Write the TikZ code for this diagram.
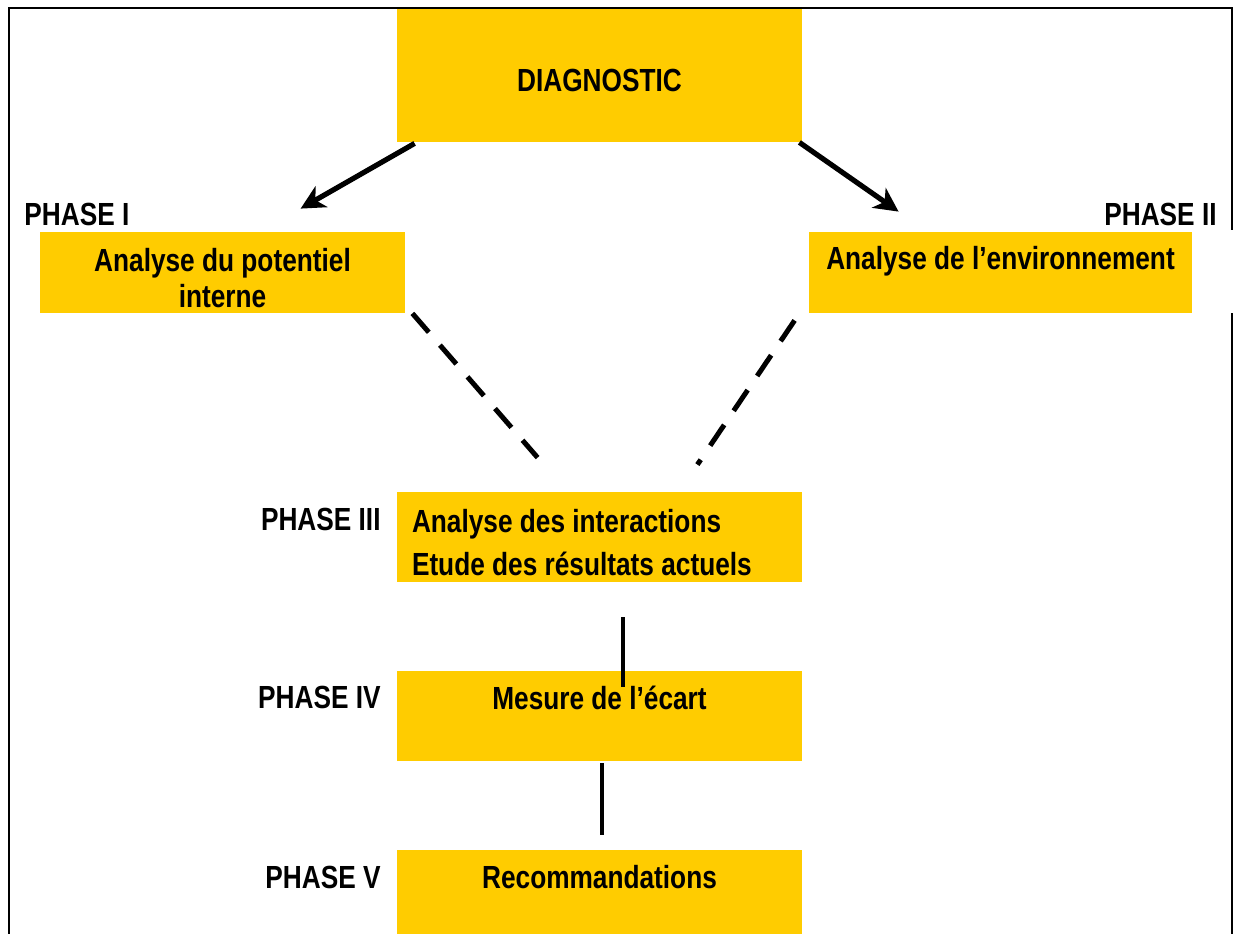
\documentclass[tikz,border=0pt]{standalone}
\usepackage{fontspec}
\setmainfont{Liberation Sans}[FakeStretch=0.82]
\usetikzlibrary{arrows.meta,calc}
\definecolor{boxyellow}{RGB}{255,204,0}
% lower a line of box text without changing the box it sits in
\newcommand\lowline[2][2.6pt]{\raisebox{-#1}[\height][\depth]{#2}}
\begin{document}
\begin{tikzpicture}[x=0.5pt,y=-0.5pt,
  font=\fontsize{16}{18}\selectfont\bfseries,
  box/.style={fill=boxyellow,draw=none,inner sep=0pt,align=center},
  phase/.style={inner sep=0pt},
  frameline/.style={line width=1pt,black},
  arrowline/.style={line width=2.6pt,-{Stealth[length=12pt,width=12pt,inset=3.5pt]}},
  dashline/.style={line width=2.5pt,dash pattern=on 12.5pt off 8.5pt},
  joinline/.style={line width=2pt}]
\useasboundingbox (0,0) rectangle (1237,933);

% outer frame, open on the right beside phase II
\draw[frameline] (9,940) -- (9,8) -- (1232,8) -- (1232,230);
\draw[frameline] (1232,313) -- (1232,940);

% boxes
\node[box,minimum width=202.5pt,minimum height=66.5pt] (diag) at (599.5,75.5) {\lowline{DIAGNOSTIC}};
\node[box,minimum width=182.5pt,minimum height=40.5pt] (p1) at (222.5,272.5)
  {\lowline{Analyse du potentiel}\\\lowline{interne}};
\node[box,minimum width=191.5pt,minimum height=40.5pt] (p2) at (1000.5,272.5)
  {\lowline[4.6pt]{Analyse de l’environnement}\\ \strut};
\node[box,minimum width=202.5pt,minimum height=45pt,align=flush left,text width=187.5pt] (p3) at (599.5,537)
  {\lowline{Analyse des interactions}\\[3.5pt]\lowline{Etude des résultats actuels}};
\node[box,minimum width=202.5pt,minimum height=45pt] (p4) at (599.5,716) {\lowline{Mesure de l’écart}\\ \strut};
\node[box,minimum width=202.5pt,minimum height=45pt] (p5) at (599.5,895) {\lowline{Recommandations}\\ \strut};

% phase labels
\node[phase,anchor=base west] (l1) at (24,225) {PHASE I};
\node[phase,anchor=base east] (l2) at (1217,225) {PHASE II};
\node[phase,anchor=base east] (l3) at (381,530) {PHASE III};
\node[phase,anchor=base east] (l4) at (381,708) {PHASE IV};
\node[phase,anchor=base east] (l5) at (381,888) {PHASE V};

% arrows from the diagnostic
\draw[arrowline] ($(diag.south west)+(18,1)$) -- ($(p1.north west)+(261,-23)$);
\draw[arrowline] ($(diag.south east)+(-3,0)$) -- ($(p2.north west)+(90,-20)$);

% dashed links towards phase III
\draw[dashline] ($(p1.south east)+(7,0)$) -- ($(p3.north west)+(141,-34)$);
\draw[dashline] ($(p2.south west)+(-14,7)$) -- ($(p3.north east)+(-105,-27)$);

% solid links down the chain
\draw[joinline] ($(p3.south)+(23.5,35)$) -- ($(p4.north)+(23.5,16)$);
\draw[joinline] ($(p4.south)+(2.5,2)$) -- ($(p5.north)+(2.5,-15)$);
\end{tikzpicture}
\end{document}
